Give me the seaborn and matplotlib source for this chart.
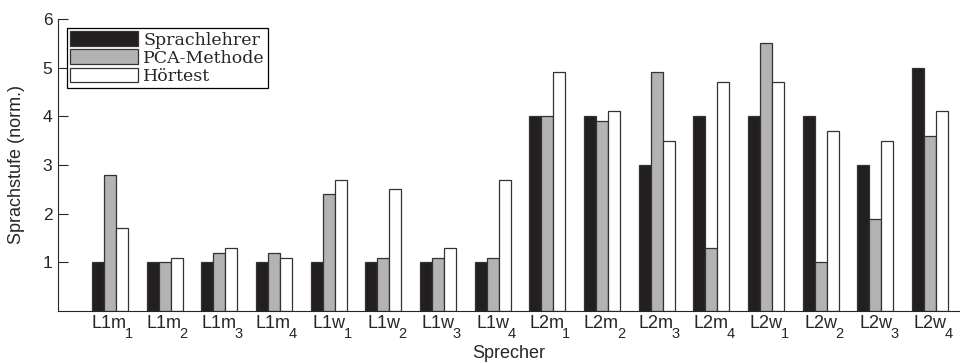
import matplotlib
matplotlib.use("Agg")
import matplotlib.pyplot as plt
import pandas as pd
import seaborn as sns

speakers = ["L1m1", "L1m2", "L1m3", "L1m4", "L1w1", "L1w2", "L1w3", "L1w4",
            "L2m1", "L2m2", "L2m3", "L2m4", "L2w1", "L2w2", "L2w3", "L2w4"]
sprachlehrer = [1, 1, 1, 1, 1, 1, 1, 1, 4, 4, 3, 4, 4, 4, 3, 5]
pca_methode = [2.8, 1.0, 1.2, 1.2, 2.4, 1.1, 1.1, 1.1, 4.0, 3.9, 4.9, 1.3, 5.5, 1.0, 1.9, 3.6]
hoertest = [1.7, 1.1, 1.3, 1.1, 2.7, 2.5, 1.3, 2.7, 4.9, 4.1, 3.5, 4.7, 4.7, 3.7, 3.5, 4.1]
series = ["Sprachlehrer", "PCA-Methode", "Hörtest"]

df = pd.concat([
    pd.DataFrame({"speaker": speakers, "value": v, "series": s})
    for s, v in zip(series, [sprachlehrer, pca_methode, hoertest])
], ignore_index=True)

sns.set_style("ticks")
plt.rcParams["font.family"] = ["Liberation Sans", "DejaVu Sans"]

fig = plt.figure(figsize=(9.6, 3.63), dpi=100)
ax = fig.add_axes([0.0604, 0.143, 0.9396, 0.805])

sns.barplot(
    data=df, x="speaker", y="value", hue="series",
    palette=["#231f20", "#b3b3b3", "#ffffff"],
    width=0.66, gap=0, edgecolor="#333333", linewidth=0.9,
    saturation=1, ax=ax,
)

ax.set_ylim(0, 6)
ax.set_xlim(-0.95, 15.55)
ax.set_yticks([1, 2, 3, 4, 5, 6])
ax.set_xticks(range(len(speakers)))
ax.set_xticklabels([""] * len(speakers))
ax.tick_params(axis="x", length=0)
ax.tick_params(axis="y", labelsize=12.5, length=7, direction="in", pad=4)

# tick labels with dropped subscripts, like the original figure
xt = ax.get_xaxis_transform()
for i, name in enumerate(speakers):
    ax.annotate(name[:-1], xy=(i, 0), xycoords=xt, xytext=(17, -4),
                textcoords="offset pixels", ha="right", va="top", fontsize=13)
    ax.annotate(name[-1], xy=(i, 0), xycoords=xt, xytext=(15, -16),
                textcoords="offset pixels", ha="left", va="top", fontsize=10.5)

ax.set_xlabel("Sprecher", fontsize=13, labelpad=21)
ax.set_ylabel("Sprachstufe (norm.)", fontsize=13, labelpad=13)
sns.despine(ax=ax)

leg = ax.legend(
    loc="upper left", bbox_to_anchor=(0.01, 0.969),
    prop={"family": "DejaVu Serif", "size": 12.5},
    handlelength=3.9, handleheight=0.9, handletextpad=0.3,
    labelspacing=0.05, borderpad=0.2, borderaxespad=0,
    fancybox=False, framealpha=1, edgecolor="black", title=None,
)
leg.get_frame().set_linewidth(0.9)

fig.savefig("out.png", dpi=100)
